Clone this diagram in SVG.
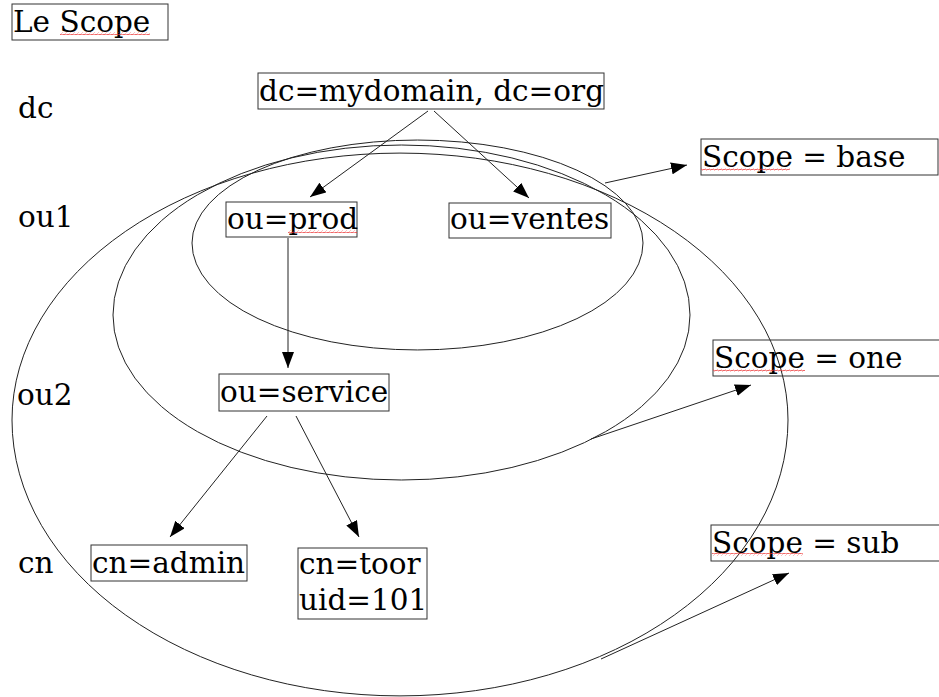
<svg xmlns="http://www.w3.org/2000/svg" width="939" height="697" viewBox="0 0 939 697">
<style>
  text { font-family: "DejaVu Serif", "Liberation Serif", serif; font-size: 29.5px; fill: #000; }
  .box { fill: none; stroke: #333; stroke-width: 1; }
  .ell { fill: none; stroke: #222; stroke-width: 1; }
  .con { fill: none; stroke: #222; stroke-width: 1; }
  .sq { fill: url(#squiggle); }
</style>
<defs>
  <marker id="arrow" viewBox="0 0 16 12" refX="16" refY="6" markerWidth="16" markerHeight="12" markerUnits="userSpaceOnUse" orient="auto">
    <path d="M0,0 L16,6 L0,12 Z" fill="#000"/>
  </marker>
  <pattern id="squiggle" x="0" y="0" width="4" height="3" patternUnits="userSpaceOnUse">
    <path d="M0,2 Q1,0 2,1.5 T4,1" fill="none" stroke="#e33" stroke-width="0.8"/>
  </pattern>
</defs>

<g id="ellipses">
  <path id="scope-base-area" class="ell" d="M192,243 A225.5,103 0 0 1 643,243 A225.5,107 0 0 1 192,243 Z"/>
  <path id="scope-one-area" class="ell" d="M113,315 A288.5,170 0 0 1 690,315 A288.5,165 0 0 1 113,315 Z"/>
  <path id="scope-sub-area" class="ell" d="M12,420 A388,267 0 0 1 788,420 A388,276 0 0 1 12,420 Z"/>
</g>

<g id="labels">
  <text x="18" y="118">dc</text>
  <text x="18" y="227">ou1</text>
  <text x="17" y="405">ou2</text>
  <text x="18" y="573">cn</text>
</g>

<g id="title">
  <rect class="box" x="12" y="4" width="156" height="36"/>
  <text x="13" y="32">Le Scope</text>
  <rect class="sq" x="60" y="32" width="90" height="3"/>
</g>

<g id="node-root">
  <rect class="box" x="258" y="73" width="346" height="36"/>
  <text x="259" y="101">dc=mydomain, dc=org</text>
</g>

<g id="node-prod">
  <rect class="box" x="226" y="202" width="131" height="35"/>
  <text x="227" y="229">ou=prod</text>
  <rect class="sq" x="288" y="230" width="69" height="3"/>
</g>

<g id="node-ventes">
  <rect class="box" x="449" y="203" width="162" height="35"/>
  <text x="450" y="229">ou=ventes</text>
</g>

<g id="node-service">
  <rect class="box" x="219" y="374" width="170" height="37"/>
  <text x="220" y="402">ou=service</text>
</g>

<g id="node-admin">
  <rect class="box" x="91" y="545" width="156" height="36"/>
  <text x="92" y="573">cn=admin</text>
</g>

<g id="node-toor">
  <rect class="box" x="298" y="548" width="129" height="71"/>
  <text x="299" y="574">cn=toor</text>
  <text x="299" y="610">uid=101</text>
</g>

<g id="scope-base">
  <rect class="box" x="701" y="139" width="237" height="36"/>
  <text x="702" y="167">Scope = base</text>
  <rect class="sq" x="701" y="168" width="89" height="3"/>
</g>

<g id="scope-one">
  <rect class="box" x="713" y="340" width="240" height="36"/>
  <text x="714" y="368">Scope = one</text>
  <rect class="sq" x="713" y="369" width="92" height="3"/>
</g>

<g id="scope-sub">
  <rect class="box" x="711" y="525" width="240" height="36"/>
  <text x="712" y="553">Scope = sub</text>
  <rect class="sq" x="712" y="553" width="91" height="3"/>
</g>

<g id="connectors">
  <line class="con" x1="428" y1="111" x2="310" y2="197" marker-end="url(#arrow)"/>
  <line class="con" x1="434" y1="111" x2="529" y2="198" marker-end="url(#arrow)"/>
  <line class="con" x1="288" y1="238" x2="288" y2="368" marker-end="url(#arrow)"/>
  <line class="con" x1="267" y1="416" x2="170" y2="537" marker-end="url(#arrow)"/>
  <line class="con" x1="296" y1="416" x2="359" y2="537" marker-end="url(#arrow)"/>
  <line class="con" x1="605" y1="183" x2="687" y2="165" marker-end="url(#arrow)"/>
  <line class="con" x1="591" y1="439" x2="751" y2="385" marker-end="url(#arrow)"/>
  <line class="con" x1="601" y1="659" x2="789" y2="573" marker-end="url(#arrow)"/>
</g>
</svg>
